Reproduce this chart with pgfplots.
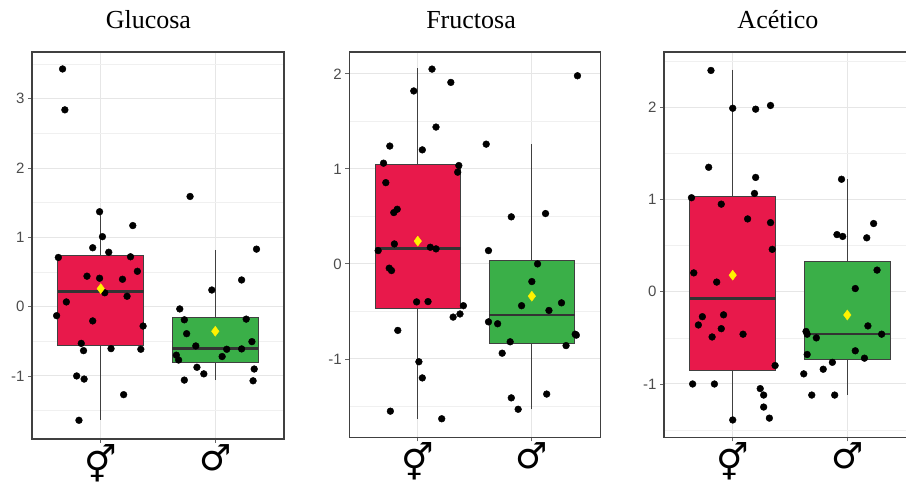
\documentclass[border=0pt]{standalone}
\usepackage{pgfplots}
\pgfplotsset{compat=1.18}
\usepgfplotslibrary{statistics}
\usepackage{fontspec}
\setmainfont{Liberation Sans}
\newfontfamily\titlefont{Liberation Serif}
\newfontfamily\symfont{DejaVu Sans}
\definecolor{boxred}{HTML}{E8194B}
\definecolor{boxgreen}{HTML}{3AAF48}
\definecolor{meanyellow}{HTML}{FFF200}
\definecolor{gridmaj}{HTML}{E6E6E6}
\definecolor{gridmin}{HTML}{F0F0F0}
\pgfplotsset{
  panel/.style={
    scale only axis, anchor=south west,
    xmin=0.4, xmax=2.6,
    xtick={1,2}, xticklabels={⚥,♂},
    axis line style={draw=black!75, line width=1.2pt},
    tick style={draw=black!60, line width=0.8pt},
    tick align=outside, major tick length=4pt, minor tick length=0pt,
    tick pos=left,
    grid=both,
    major grid style={draw=gridmaj, line width=1pt},
    minor grid style={draw=gridmin, line width=0.7pt},
    /pgf/number format/assume math mode=true,
    yticklabel style={font=\fontsize{15}{15}\selectfont, text=black!70},
    xticklabel style={font=\fontsize{36}{36}\selectfont\symfont, inner sep=0pt, yshift=-1pt},
    title style={font=\fontsize{26}{26}\selectfont\titlefont, anchor=base, yshift=17.5pt},
    boxplot/draw direction=y,
  },
  redbox/.style={fill=boxred, draw=black!75, line width=0.9pt,
    boxplot/every median/.style={draw=black!80, line width=2.6pt},
    boxplot/every whisker/.style={draw=black!75, line width=1.2pt}},
  greenbox/.style={fill=boxgreen, draw=black!75, line width=0.9pt,
    boxplot/every median/.style={draw=black!80, line width=2.6pt},
    boxplot/every whisker/.style={draw=black!75, line width=1.2pt}},
  pts/.style={only marks, mark=*, mark size=3.4pt, draw=black, fill=black},
  meanpt/.style={only marks, mark=diamond*, mark size=5pt, draw=meanyellow, fill=meanyellow},
}
\begin{document}
\begin{tikzpicture}
% ---------------- Glucosa ----------------
\begin{axis}[panel, at={(32pt,46pt)}, width=252pt, height=387pt,
  ymin=-1.91, ymax=3.675, ytick={-1,0,1,2,3},
  minor ytick={-1.5,-0.5,0.5,1.5,2.5,3.5},
  title={Glucosa}, title style={at={(0.462,1)}}]
\addplot[redbox, boxplot prepared={lower whisker=-1.635, lower quartile=-0.563, median=0.22, upper quartile=0.74, upper whisker=1.37, draw position=1, box extend=0.75, whisker extend=0}] coordinates {};
\addplot[greenbox, boxplot prepared={lower whisker=-1.06, lower quartile=-0.81, median=-0.6, upper quartile=-0.153, upper whisker=0.82, draw position=2, box extend=0.75, whisker extend=0}] coordinates {};
\addplot[pts] coordinates {(0.667,3.43) (0.687,2.84) (0.99,1.37) (1.015,1.01) (1.28,1.17) (0.93,0.85) (0.63,0.71) (1.07,0.785) (1.26,0.72) (1.32,0.51) (0.88,0.44) (0.99,0.41) (1.19,0.395) (1.23,0.15) (1.035,0.2) (0.70,0.068) (0.615,-0.13) (0.93,-0.206) (1.37,-0.28) (0.83,-0.53) (0.85,-0.635) (1.09,-0.606) (1.35,-0.615) (0.79,-1.0) (0.855,-1.045) (1.20,-1.27) (0.81,-1.64)};
\addplot[pts] coordinates {(1.78,1.59) (2.36,0.83) (2.23,0.385) (1.97,0.24) (1.69,-0.033) (1.73,-0.19) (2.27,-0.18) (1.75,-0.39) (2.32,-0.505) (1.83,-0.567) (2.10,-0.615) (2.23,-0.61) (2.06,-0.72) (1.66,-0.70) (1.68,-0.77) (1.84,-0.875) (1.90,-0.97) (2.34,-0.9) (1.73,-1.06) (2.33,-1.07)};
\addplot[meanpt] coordinates {(1,0.26) (2,-0.355)};
\end{axis}
% ---------------- Fructosa ----------------
\begin{axis}[panel, at={(349.3pt,47.7pt)}, width=251pt, height=385.3pt,
  ymin=-1.825, ymax=2.23, ytick={-1,0,1,2},
  minor ytick={-1.5,-0.5,0.5,1.5},
  title={Fructosa}, title style={at={(0.485,1)}}]
\addplot[redbox, boxplot prepared={lower whisker=-1.63, lower quartile=-0.466, median=0.165, upper quartile=1.05, upper whisker=2.06, draw position=1, box extend=0.75, whisker extend=0}] coordinates {};
\addplot[greenbox, boxplot prepared={lower whisker=-1.53, lower quartile=-0.835, median=-0.537, upper quartile=0.035, upper whisker=1.26, draw position=2, box extend=0.75, whisker extend=0}] coordinates {};
\addplot[pts] coordinates {(1.125,2.05) (0.965,1.82) (1.29,1.91) (1.16,1.44) (0.755,1.24) (1.04,1.2) (0.70,1.06) (1.36,1.035) (1.35,0.965) (0.72,0.855) (0.82,0.575) (0.79,0.54) (0.795,0.21) (0.653,0.14) (1.11,0.175) (1.16,0.158) (0.75,-0.045) (0.77,-0.07) (0.99,-0.4) (1.09,-0.397) (1.40,-0.44) (1.37,-0.527) (1.31,-0.56) (0.825,-0.70) (1.01,-1.03) (1.04,-1.2) (0.76,-1.55) (1.21,-1.63)};
\addplot[pts] coordinates {(1.60,1.26) (2.40,1.98) (2.12,0.53) (1.82,0.495) (1.62,0.14) (2.05,0.0) (2.0,-0.186) (1.91,-0.44) (2.26,-0.41) (2.15,-0.49) (1.62,-0.61) (1.70,-0.63) (1.81,-0.82) (2.38,-0.74) (2.39,-0.75) (2.30,-0.86) (1.74,-0.94) (1.82,-1.41) (1.88,-1.53) (2.13,-1.37)};
\addplot[meanpt] coordinates {(1,0.24) (2,-0.34)};
\end{axis}
% ---------------- Acetico ----------------
\begin{axis}[panel, at={(664pt,47.7pt)}, width=252pt, height=385.3pt,
  ymin=-1.578, ymax=2.60, ytick={-1,0,1,2},
  minor ytick={-1.5,-0.5,0.5,1.5,2.5},
  title={Acético}, title style={at={(0.452,1)}}]
\addplot[redbox, boxplot prepared={lower whisker=-1.39, lower quartile=-0.856, median=-0.072, upper quartile=1.03, upper whisker=2.41, draw position=1, box extend=0.75, whisker extend=0}] coordinates {};
\addplot[greenbox, boxplot prepared={lower whisker=-1.12, lower quartile=-0.73, median=-0.46, upper quartile=0.325, upper whisker=1.22, draw position=2, box extend=0.75, whisker extend=0}] coordinates {};
\addplot[pts] coordinates {(0.81,2.40) (1.0,1.99) (1.20,1.98) (1.33,2.02) (0.79,1.35) (1.20,1.24) (1.19,1.066) (0.64,1.02) (0.90,0.95) (1.13,0.79) (1.33,0.75) (1.345,0.46) (0.66,0.205) (0.86,0.105) (0.735,-0.27) (0.70,-0.36) (0.92,-0.25) (0.90,-0.40) (0.82,-0.49) (1.09,-0.46) (1.37,-0.80) (0.65,-1.0) (0.84,-1.0) (1.24,-1.05) (1.27,-1.12) (1.27,-1.25) (1.32,-1.37) (1.0,-1.39)};
\addplot[pts] coordinates {(1.95,1.22) (2.23,0.74) (1.91,0.62) (1.96,0.60) (2.17,0.585) (2.26,0.235) (2.07,0.035) (1.64,-0.43) (1.65,-0.46) (1.73,-0.5) (2.18,-0.37) (2.30,-0.46) (1.65,-0.68) (2.07,-0.64) (2.15,-0.72) (1.87,-0.765) (1.79,-0.84) (1.62,-0.89) (1.69,-1.12) (1.89,-1.12)};
\addplot[meanpt] coordinates {(1,0.18) (2,-0.252)};
\end{axis}
\pgfresetboundingbox
\useasboundingbox (0pt,0pt) rectangle (906pt,485pt);
\end{tikzpicture}
\end{document}
